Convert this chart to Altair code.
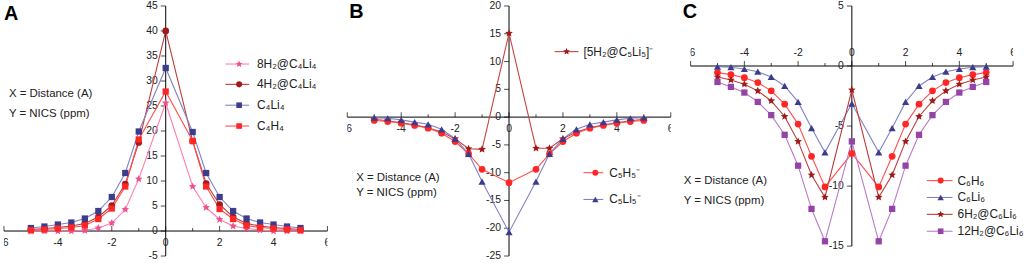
import altair as alt
import pandas as pd

FONT = "Liberation Sans"

x_vals = [-5, -4.5, -4, -3.5, -3, -2.5, -2, -1.5, -1, 0, 1, 1.5, 2, 2.5, 3, 3.5, 4, 4.5, 5]

# Panel A
a_names = ["8H₂@C₄Li₄", "4H₂@C₄Li₄", "C₄Li₄", "C₄H₄"]
a_8h2 = [0, 0, 0, 0, 0.1, 0.6, 1.6, 4.3, 10.4, 25.6, 8.9, 4.7, 2.3, 1.0, 0.5, 0.2, 0, 0, 0]
a_4h2 = [0.3, 0.5, 0.7, 1.0, 1.5, 2.8, 5.1, 9.4, 17.7, 40.0, 18.0, 9.5, 5.3, 2.8, 1.5, 1.0, 0.7, 0.5, 0.3]
a_c4li4 = [0.6, 0.9, 1.3, 1.7, 2.5, 4.0, 6.8, 11.6, 19.9, 32.6, 19.8, 11.6, 6.8, 4.0, 2.5, 1.7, 1.3, 0.9, 0.6]
a_c4h4 = [0.15, 0.3, 0.5, 0.7, 1.1, 2.4, 4.5, 8.9, 18.3, 27.9, 18.0, 8.9, 4.4, 2.4, 1.1, 0.7, 0.5, 0.3, 0.15]

# Panel B
b_names = ["[5H₂@C₅Li₅]⁻", "C₅H₅⁻", "C₅Li₅⁻"]
b_5h2 = [-0.4, -0.65, -1.0, -1.4, -1.9, -2.7, -3.9, -5.7, -5.8, 15.1, -5.6, -5.6, -3.9, -2.7, -1.9, -1.4, -1.0, -0.65, -0.4]
b_c5h5 = [-0.6, -0.8, -1.1, -1.5, -2.0, -2.9, -4.4, -6.6, -9.4, -11.8, -9.4, -6.6, -4.4, -2.9, -2.0, -1.5, -1.1, -0.8, -0.6]
b_c5li5 = [-0.1, -0.2, -0.5, -0.9, -1.3, -2.2, -3.9, -6.6, -11.6, -20.7, -11.6, -6.6, -3.9, -2.2, -1.3, -0.9, -0.5, -0.2, -0.1]

# Panel C
c_names = ["C₆H₆", "C₆Li₆", "6H₂@C₆Li₆", "12H₂@C₆Li₆"]
c_c6h6 = [-0.55, -0.72, -0.97, -1.38, -2.07, -3.18, -4.84, -7.52, -10.07, -7.28, -10.07, -7.52, -4.84, -3.18, -2.07, -1.38, -0.97, -0.72, -0.55]
c_c6li6 = [-0.05, -0.1, -0.25, -0.47, -0.91, -1.66, -2.99, -5.17, -7.19, -3.13, -7.19, -5.17, -2.99, -1.66, -0.91, -0.47, -0.25, -0.1, -0.05]
c_6h2 = [-0.91, -1.16, -1.52, -2.07, -2.9, -4.2, -6.28, -9.07, -10.93, -1.99, -10.93, -9.07, -6.28, -4.2, -2.9, -2.07, -1.52, -1.16, -0.91]
c_12h2 = [-1.33, -1.74, -2.21, -2.99, -4.09, -5.73, -8.3, -11.9, -14.6, -6.28, -14.6, -11.9, -8.3, -5.73, -4.09, -2.99, -2.21, -1.74, -1.33]

x_ticks = [-6, -4, -2, 0, 2, 4, 6]
x_minor = [-5, -3, -1, 1, 3, 5]
a_yticks = [-5, 0, 5, 10, 15, 20, 25, 30, 35, 40, 45]
b_yticks = [-25, -20, -15, -10, -5, 0, 5, 10, 15, 20]
c_yticks = [-15, -10, -5, 0, 5]

# styles
PINK, PINK_L = "#f0508c", "#ff80ae"
DRED, DRED_L = "#a01a1a", "#c03c3c"
NAVY, NAVY_L = "#3c3c8e", "#8282c4"
RED, RED_L = "#ff2626", "#ff5050"
PURP, PURP_L = "#9444a6", "#b87ac8"

STAR = ("M0,-1L0.27,-0.37L0.95,-0.31L0.44,0.14L0.59,0.81L0,0.46"
        "L-0.59,0.81L-0.44,0.14L-0.95,-0.31L-0.27,-0.37Z")
SHAPE = {"star": STAR, "circle": "circle", "square": "square", "triangle-up": "triangle-up"}
SIZES = {"star": 66, "circle": 46, "square": 40, "triangle-up": 52}


def long_df(names, series):
    rows = []
    for n, ys in zip(names, series):
        for x, y in zip(x_vals, ys):
            rows.append({"x": x, "y": y, "s": n})
    return pd.DataFrame(rows)


one = pd.DataFrame({"k": [0]})


def deco_text(txt, px, py, size, weight="normal", color="#222"):
    return alt.Chart(one).mark_text(
        text=txt, align="left", baseline="middle", font=FONT, fontSize=size,
        fontWeight=weight, color=color
    ).encode(x=alt.value(px), y=alt.value(py))


def legend_row(label, mcol, lcol, shape, x1, x2, xm, xt, py):
    r = alt.Chart(one).mark_rule(color=lcol, strokeWidth=1.1).encode(
        x=alt.value(x1), x2=alt.value(x2), y=alt.value(py))
    p = alt.Chart(one).mark_point(shape=SHAPE[shape], filled=True, opacity=1, color=mcol,
                                  size=SIZES[shape] * 0.8, strokeWidth=0).encode(
        x=alt.value(xm), y=alt.value(py))
    t = deco_text(label, xt, py, 12)
    return [r, p, t]


def panel(names, series, mcols, lcols, shapes, ydom, yticks, W, H, xlabels_below,
          letter, letter_pos, notes, legend_spec):
    df = long_df(names, series)
    xs = alt.Scale(domain=[-6, 6], nice=False, zero=False)
    ys = alt.Scale(domain=ydom, nice=False, zero=False)
    X = lambda f: alt.X(f, scale=xs, axis=None)
    Y = lambda f: alt.Y(f, scale=ys, axis=None)

    layers = []
    xaxis_df = pd.DataFrame({"x1": [-6], "x2": [6], "y": [0]})
    yaxis_df = pd.DataFrame({"y1": [ydom[0]], "y2": [ydom[1]], "x": [0]})
    layers.append(alt.Chart(xaxis_df).mark_rule(color="black", strokeWidth=1).encode(
        x=X("x1:Q"), x2="x2:Q", y=Y("y:Q")))
    layers.append(alt.Chart(yaxis_df).mark_rule(color="black", strokeWidth=1).encode(
        y=Y("y1:Q"), y2="y2:Q", x=X("x:Q")))
    xt_df = pd.DataFrame({"x": x_ticks, "y": [0] * len(x_ticks),
                          "lab": [str(v) for v in x_ticks]})
    xm_df = pd.DataFrame({"x": x_minor, "y": [0] * len(x_minor)})
    yt_df = pd.DataFrame({"y": yticks, "x": [0] * len(yticks),
                          "lab": [str(v) for v in yticks]})
    layers.append(alt.Chart(xt_df).mark_tick(orient="vertical", size=5, thickness=1,
                                             color="black", yOffset=-2.5).encode(
        x=X("x:Q"), y=Y("y:Q")))
    layers.append(alt.Chart(xm_df).mark_tick(orient="vertical", size=3, thickness=1,
                                             color="black", yOffset=-1.5).encode(
        x=X("x:Q"), y=Y("y:Q")))
    layers.append(alt.Chart(yt_df).mark_tick(orient="horizontal", size=5, thickness=1,
                                             color="black", xOffset=-2.5).encode(
        x=X("x:Q"), y=Y("y:Q")))
    if xlabels_below:
        xl = alt.Chart(xt_df).mark_text(baseline="top", dy=7, font=FONT, fontSize=10.5,
                                        color="#222", clip=True)
    else:
        xl = alt.Chart(xt_df).mark_text(baseline="alphabetic", dy=-10, font=FONT,
                                        fontSize=10.5, color="#222", clip=True)
    layers.append(xl.encode(x=X("x:Q"), y=Y("y:Q"), text="lab:N"))
    layers.append(alt.Chart(yt_df).mark_text(align="right", baseline="middle", dx=-8,
                                             font=FONT, fontSize=10.5, color="#222").encode(
        x=X("x:Q"), y=Y("y:Q"), text="lab:N"))

    # one line layer per series, with its own fixed colour
    for n, lc in zip(names, lcols):
        layers.append(alt.Chart(df[df.s == n]).mark_line(strokeWidth=1.1, color=lc).encode(
            x=X("x:Q"), y=Y("y:Q"), order="x:Q"))
    for n, mc, sh in zip(names, mcols, shapes):
        layers.append(alt.Chart(df[df.s == n]).mark_point(
            shape=SHAPE[sh], filled=True, opacity=1, size=SIZES[sh], color=mc, strokeWidth=0
        ).encode(x=X("x:Q"), y=Y("y:Q")))

    layers.append(deco_text(letter, letter_pos[0], letter_pos[1], 20, "bold", "black"))
    for txt, px, py in notes:
        layers.append(deco_text(txt, px, py, 11.5))
    for i, (x1, x2, xm, xt, py) in enumerate(legend_spec):
        layers += legend_row(names[i], mcols[i], lcols[i], shapes[i], x1, x2, xm, xt, py)
    return alt.layer(*layers).properties(width=W, height=H)


A = panel(a_names, [a_8h2, a_4h2, a_c4li4, a_c4h4],
          [PINK, DRED, NAVY, RED], [PINK_L, DRED_L, NAVY_L, RED_L],
          ["star", "circle", "square", "square"],
          [-5, 45], a_yticks, 326, 252, True,
          "A", (0, 8),
          [("X = Distance (A)", 5, 89), ("Y = NICS (ppm)", 5, 108.5)],
          [(223, 247, 237, 255, 58.5), (223, 247, 237, 255, 79),
           (223, 247, 237, 255, 100), (223, 247, 237, 255, 121)])

B = panel(b_names, [b_5h2, b_c5h5, b_c5li5],
          [DRED, RED, NAVY], ["#c84444", RED_L, NAVY_L],
          ["star", "circle", "triangle-up"],
          [-25, 20], b_yticks, 326, 252, True,
          "B", (2, 6),
          [("X = Distance (A)", 9, 173), ("Y = NICS (ppm)", 9, 188)],
          [(209, 233, 221, 238, 46), (238, 258, 250, 264, 168),
           (238, 258, 250, 264, 195)])

C = panel(c_names, [c_c6h6, c_c6li6, c_6h2, c_12h2],
          [RED, NAVY, DRED, PURP], [RED_L, NAVY_L, DRED_L, PURP_L],
          ["circle", "triangle-up", "star", "square"],
          [-15, 5], c_yticks, 325, 242, False,
          "C", (-8, 6),
          [("X = Distance (A)", -7, 176.5), ("Y = NICS (ppm)", -7, 196.5)],
          [(238, 264, 252, 269, 176), (238, 264, 252, 269, 193),
           (238, 264, 252, 269, 210), (238, 264, 252, 269, 227)])

chart = alt.hconcat(A, B, C, spacing=20, bounds="flush").properties(
    padding={"left": 3, "top": 0, "right": 0, "bottom": 0},
    background="white",
).configure_view(stroke=None)

chart.save("out.html", embed_options={"renderer": "svg", "actions": False})
